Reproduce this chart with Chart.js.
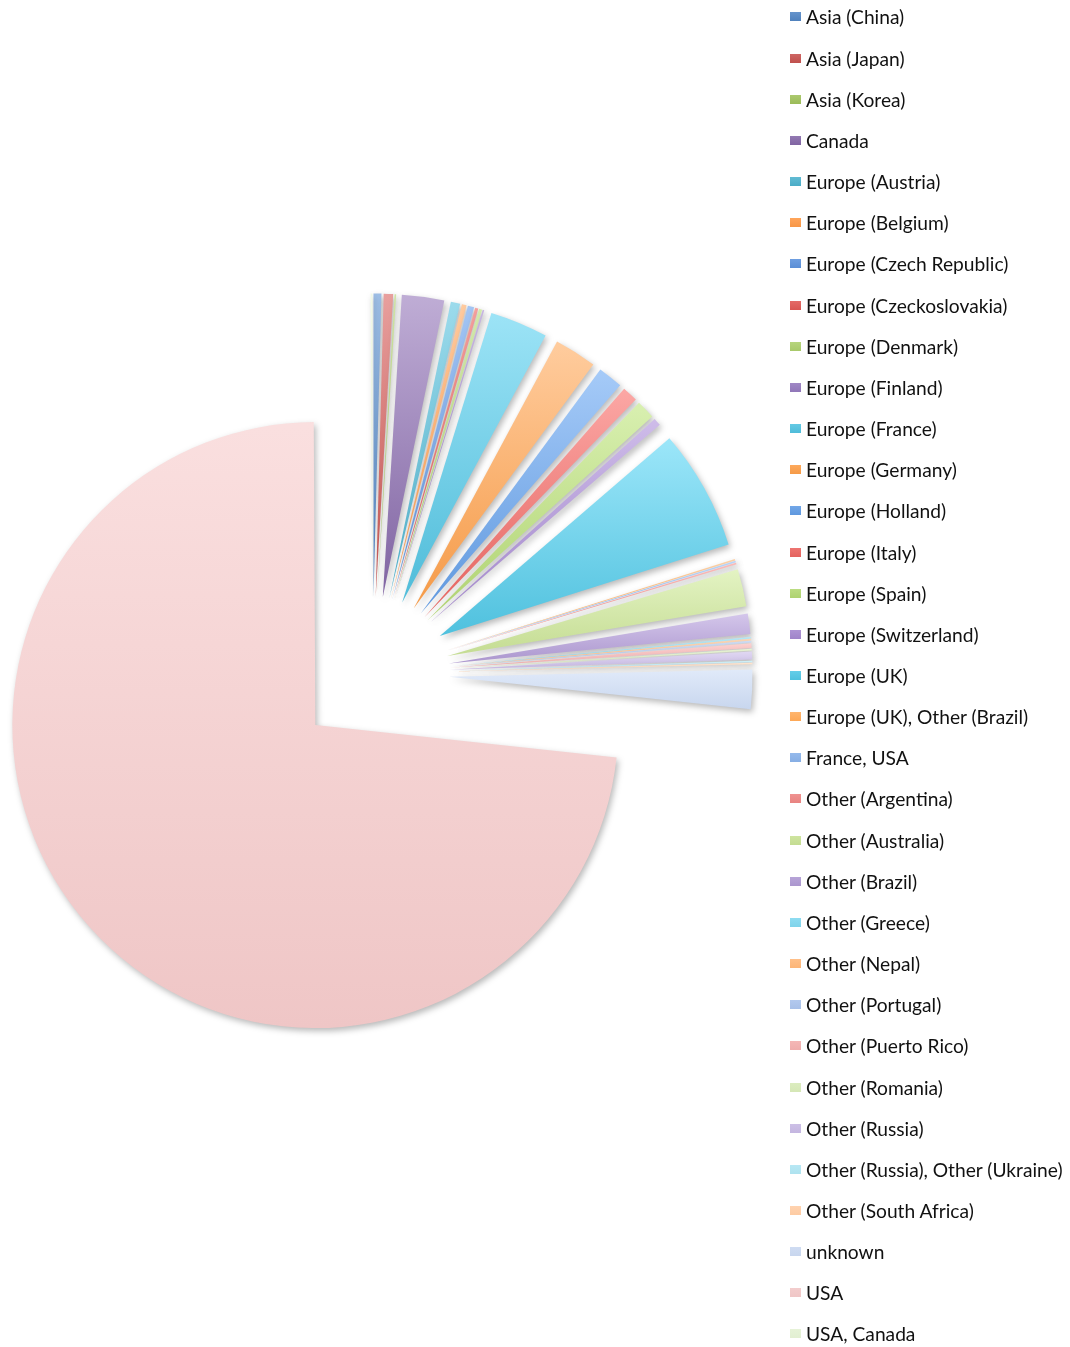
<!DOCTYPE html>
<html>
<head>
<meta charset="utf-8">
<title>Country breakdown</title>
<script src="https://cdn.jsdelivr.net/npm/chart.js@4/dist/chart.umd.min.js"></script>
<style>
  body { margin: 0; background: #fff; }
  #wrap { position: relative; width: 1070px; height: 1347px; }
  #legend {
    position: absolute;
    left: 790px;
    top: -3.6px;
    font-family: Lato, "Open Sans", sans-serif;
    font-size: 19.2px;
    color: #111;
  }
  .item { height: 41.16px; display: flex; align-items: center; white-space: nowrap; }
  .box { width: 11px; height: 9px; margin-right: 5px; }
</style>
</head>
<body>
<div id="wrap">
  <canvas id="chart"></canvas>
  <div id="legend"></div>
</div>
<script>
const labels = [
  "Asia (China)", "Asia (Japan)", "Asia (Korea)", "Canada",
  "Europe (Austria)", "Europe (Belgium)", "Europe (Czech Republic)", "Europe (Czeckoslovakia)",
  "Europe (Denmark)", "Europe (Finland)", "Europe (France)", "Europe (Germany)",
  "Europe (Holland)", "Europe (Italy)", "Europe (Spain)", "Europe (Switzerland)",
  "Europe (UK)", "Europe (UK), Other (Brazil)", "France, USA", "Other (Argentina)",
  "Other (Australia)", "Other (Brazil)", "Other (Greece)", "Other (Nepal)",
  "Other (Portugal)", "Other (Puerto Rico)", "Other (Romania)", "Other (Russia)",
  "Other (Russia), Other (Ukraine)", "Other (South Africa)", "unknown", "USA",
  "USA, Canada"
];

const counts = [
  5, 6, 1, 27,
  6, 3, 4, 2,
  2, 1, 37, 27,
  16, 10, 12, 5,
  77, 1, 1, 1,
  24, 13, 1, 1,
  1, 3, 1, 5,
  1, 1, 25, 877,
  1
];

const colors = [
  "#4f81bd", "#c0504d", "#9bbb59", "#8064a2",
  "#4bacc6", "#f79646", "#5a8ed6", "#d95652",
  "#a8c96a", "#9076b8", "#4fbcd9", "#f59a47",
  "#5f98de", "#e4625e", "#aed270", "#a084c9",
  "#4fc1de", "#fda856", "#86aee4", "#e88381",
  "#c4dc92", "#ab96ce", "#7fd3ea", "#fcb577",
  "#a8c0e8", "#efadac", "#d5e7b6", "#c4b6e0",
  "#aee2ef", "#fdcba3", "#c8d6ee", "#efc6c6",
  "#e2efd2"
];

// lighten a hex colour in HSL, keeping it saturated
function tint(hex, amount) {
  const n = parseInt(hex.slice(1), 16);
  const r = ((n >> 16) & 255) / 255, g = ((n >> 8) & 255) / 255, b = (n & 255) / 255;
  const max = Math.max(r, g, b), min = Math.min(r, g, b);
  let h = 0, s = 0, l = (max + min) / 2;
  if (max !== min) {
    const d = max - min;
    s = l > 0.5 ? d / (2 - max - min) : d / (max + min);
    if (max === r) h = (g - b) / d + (g < b ? 6 : 0);
    else if (max === g) h = (b - r) / d + 2;
    else h = (r - g) / d + 4;
    h *= 60;
  }
  l = l + (1 - l) * amount;
  s = Math.min(1, s * (1 + amount * 0.6));
  return `hsl(${h.toFixed(1)}, ${(s * 100).toFixed(1)}%, ${(l * 100).toFixed(1)}%)`;
}

// Arc that is pushed out along its middle angle (like an exploded Excel pie)
class ExplodedArc extends Chart.ArcElement {
  static id = "explodedArc";

  draw(ctx) {
    const { x, y, startAngle, endAngle, outerRadius, options } = this;
    if (endAngle <= startAngle) return;
    const mid = (startAngle + endAngle) / 2;
    const cx = x + Math.cos(mid) * options.offset;
    const cy = y + Math.sin(mid) * options.offset;

    // vertical extent, for the light-to-dark fill
    let top = cy, bottom = cy;
    [startAngle, endAngle, -Math.PI / 2, Math.PI / 2, Math.PI * 1.5].forEach(a => {
      if (a >= startAngle && a <= endAngle) {
        const py = cy + Math.sin(a) * outerRadius;
        top = Math.min(top, py);
        bottom = Math.max(bottom, py);
      }
    });
    const grad = ctx.createLinearGradient(0, top, 0, bottom);
    grad.addColorStop(0, tint(options.backgroundColor, 0.5));
    grad.addColorStop(1, options.backgroundColor);

    ctx.save();
    ctx.shadowColor = "rgba(0, 0, 0, 0.28)";
    ctx.shadowBlur = 6;
    ctx.shadowOffsetX = 2;
    ctx.shadowOffsetY = 3;
    ctx.beginPath();
    ctx.moveTo(cx, cy);
    ctx.arc(cx, cy, outerRadius, startAngle, endAngle);
    ctx.closePath();
    ctx.fillStyle = grad;
    ctx.fill();
    ctx.restore();
  }
}

class ExplodedPie extends Chart.PieController {
  static id = "explodedPie";
  static defaults = { dataElementType: "explodedArc" };
}

Chart.register(ExplodedArc, ExplodedPie);

const chart = new Chart(document.getElementById("chart"), {
  type: "explodedPie",
  data: {
    labels: labels,
    datasets: [{
      data: counts,
      backgroundColor: colors,
      borderWidth: 0,
      offset: 77,
      radius: 303
    }]
  },
  options: {
    responsive: true,
    maintainAspectRatio: false,
    animation: false,
    events: [],
    layout: { padding: { left: 0, right: 325, top: 0, bottom: 0 } },
    plugins: {
      legend: { display: false },
      tooltip: { enabled: false }
    }
  }
});

// Legend down the right side
const legend = document.getElementById("legend");
labels.forEach((label, i) => {
  const item = document.createElement("div");
  item.className = "item";
  const box = document.createElement("span");
  box.className = "box";
  box.style.background = `linear-gradient(${tint(colors[i], 0.15)}, ${colors[i]})`;
  const text = document.createElement("span");
  text.textContent = label;
  item.appendChild(box);
  item.appendChild(text);
  legend.appendChild(item);
});
</script>
</body>
</html>
